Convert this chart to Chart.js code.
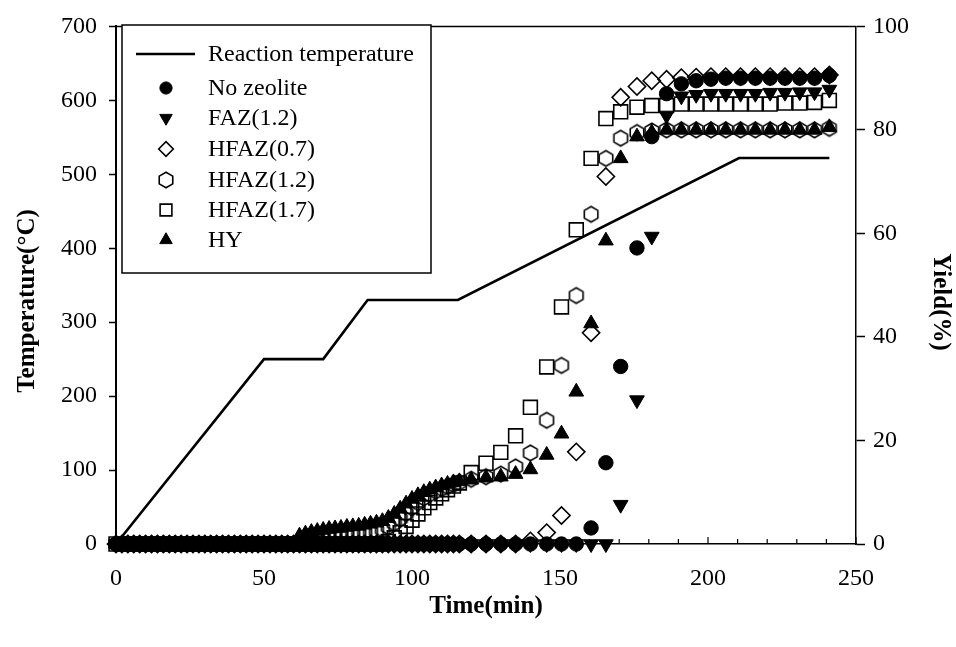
<!DOCTYPE html>
<html>
<head>
<meta charset="utf-8">
<script src="https://cdn.jsdelivr.net/npm/chart.js@4.4.1/dist/chart.umd.min.js"></script>
<style>
  html, body { margin: 0; padding: 0; background: #fff; }
  canvas { display: block; }
</style>
</head>
<body>
<canvas id="chart" width="956" height="647"></canvas>
<script>
// Reaction temperature programme (left axis, °C)
const tempMinutes = [0, 50, 70, 85, 115.5, 210.5, 241];
const tempValues  = [0, 250, 250, 330, 330, 522, 522];

// Sampling times (min) shared by all yield series
const minutes = [
  0, 2, 4, 6, 8, 10, 12, 14, 16, 18,
  20, 22, 24, 26, 28, 30, 32, 34, 36, 38,
  40, 42, 44, 46, 48, 50, 52, 54, 56, 58,
  60, 62, 64, 66, 68, 70, 72, 74, 76, 78,
  80, 82, 84, 86, 88, 90, 92, 94, 96, 98,
  100, 102, 104, 106, 108, 110, 112, 114, 116,
  120, 125, 130, 135, 140, 145.5, 150.5, 155.5, 160.5, 165.5,
  170.5, 176, 181, 186, 191, 196, 201, 206, 211, 216,
  221, 226, 231, 236, 241
];

// Yield (%) for each catalyst (right axis)
const noZeolite = [
  0, 0, 0, 0, 0, 0, 0, 0, 0, 0,
  0, 0, 0, 0, 0, 0, 0, 0, 0, 0,
  0, 0, 0, 0, 0, 0, 0, 0, 0, 0,
  0, 0, 0, 0, 0, 0, 0, 0, 0, 0,
  0, 0, 0, 0, 0, 0, 0, 0, 0, 0,
  0, 0, 0, 0, 0, 0, 0, 0, 0,
  0, 0, 0, 0, 0, 0, 0, 0, 3.1, 15.7,
  34.3, 57.2, 78.7, 87, 88.9, 89.5, 89.8, 90, 90, 90,
  90, 90, 90, 90, 90.5
];
const faz12 = [
  0, 0, 0, 0, 0, 0, 0, 0, 0, 0,
  0, 0, 0, 0, 0, 0, 0, 0, 0, 0,
  0, 0, 0, 0, 0, 0, 0, 0, 0, 0,
  0, 0, 0, 0, 0, 0, 0, 0, 0, 0,
  0, 0, 0, 0, 0, 0, 0, 0, 0, 0,
  0, 0, 0, 0, 0, 0, 0, 0, 0,
  0, 0, 0, 0, 0, 0, 0, 0, 0, 0,
  7.6, 27.8, 59.4, 82.8, 86.5, 86.8, 87, 87, 87, 87,
  87.2, 87.2, 87.3, 87.3, 87.8
];
const hfaz07 = [
  0, 0, 0, 0, 0, 0, 0, 0, 0, 0,
  0, 0, 0, 0, 0, 0, 0, 0, 0, 0,
  0, 0, 0, 0, 0, 0, 0, 0, 0, 0,
  0, 0, 0, 0, 0, 0, 0, 0, 0, 0,
  0, 0, 0, 0, 0, 0, 0, 0, 0, 0,
  0, 0, 0, 0, 0, 0, 0, 0, 0,
  0, 0, 0, 0, 0.6, 2.2, 5.5, 17.8, 40.8, 71,
  86.3, 88.4, 89.5, 89.8, 90.1, 90.2, 90.3, 90.3, 90.3, 90.3,
  90.3, 90.3, 90.3, 90.3, 90.6
];
const hfaz12 = [
  0, 0, 0, 0, 0, 0, 0, 0, 0, 0,
  0, 0, 0, 0, 0, 0, 0, 0, 0, 0,
  0, 0, 0, 0, 0, 0, 0, 0, 0, 0,
  0, 0, 0, 0, 1.0, 1.2, 1.3, 1.5, 1.6, 1.7,
  1.8, 2.0, 2.1, 2.3, 2.5, 2.8, 3.3, 4.0, 4.9, 5.9,
  7.0, 8.0, 8.9, 9.6, 10.2, 10.7, 11.1, 11.5, 11.9,
  12.5, 13.0, 13.5, 14.9, 17.6, 23.9, 34.5, 48.0, 63.7, 74.5,
  78.4, 79.5, 79.8, 80, 80, 80, 80, 80, 80, 80,
  80, 80, 80, 80, 80.3
];
const hfaz17 = [
  0, 0, 0, 0, 0, 0, 0, 0, 0, 0,
  0, 0, 0, 0, 0, 0, 0, 0, 0, 0,
  0, 0, 0, 0, 0, 0, 0, 0, 0, 0,
  0, 0, 0, 0, 0, 0, 0, 0, 0, 0,
  0, 0, 0, 0, 0, 0, 0.5, 1.2, 2.2, 3.4,
  4.6, 5.8, 7.0, 8.0, 8.9, 9.7, 10.5, 11.2, 11.8,
  13.8, 15.6, 17.7, 20.9, 26.4, 34.2, 45.8, 60.7, 74.5, 82.2,
  83.5, 84.4, 84.7, 84.7, 85, 85, 85, 85, 85, 85,
  85, 85.2, 85.2, 85.3, 85.7
];
const hy = [
  0, 0, 0, 0, 0, 0, 0, 0, 0, 0,
  0, 0, 0, 0, 0, 0, 0, 0, 0, 0,
  0, 0, 0, 0, 0, 0, 0, 0, 0, 0,
  0, 1.6, 2.0, 2.3, 2.5, 2.7, 2.9, 3.0, 3.1, 3.3,
  3.4, 3.5, 3.7, 3.9, 4.1, 4.4, 5.0, 5.8, 6.8, 7.8,
  8.7, 9.4, 10.0, 10.5, 10.9, 11.3, 11.6, 11.9, 12.1,
  12.4, 12.8, 13.0, 13.5, 14.4, 17.2, 21.3, 29.4, 42.6, 58.6,
  74.5, 78.7, 79.5, 80, 80, 80, 80, 80, 80, 80,
  80, 80, 80, 80, 80.5
];

const SERIF = "'Liberation Serif', 'Times New Roman', Times, serif";

// Open hexagon marker (pointy top) used as a custom point style
function hexagonMarker(r, lw) {
  const s = Math.ceil(2 * r + lw + 2);
  const c = document.createElement('canvas');
  c.width = s; c.height = s;
  const g = c.getContext('2d');
  g.strokeStyle = '#000';
  g.lineWidth = lw;
  g.beginPath();
  for (let k = 0; k < 6; k++) {
    const a = -Math.PI / 2 + k * Math.PI / 3;
    const px = s / 2 + r * Math.cos(a), py = s / 2 + r * Math.sin(a);
    if (k === 0) g.moveTo(px, py); else g.lineTo(px, py);
  }
  g.closePath();
  g.stroke();
  return c;
}
const hexStyle = hexagonMarker(7.8, 1.6);

const markers = {
  noZeolite: { pointStyle: 'circle',   radius: 7.2, rotation: 0,   fill: '#000',          border: 1 },
  faz12:     { pointStyle: 'triangle', radius: 8.5, rotation: 180, fill: '#000',          border: 1 },
  hfaz07:    { pointStyle: 'rectRot',  radius: 8.6, rotation: 0,   fill: 'rgba(0,0,0,0)', border: 1.6 },
  hfaz12:    { pointStyle: hexStyle,   radius: 7.8, rotation: 0,   fill: 'rgba(0,0,0,0)', border: 1.6 },
  hfaz17:    { pointStyle: 'rect',     radius: 9.8, rotation: 0,   fill: 'rgba(0,0,0,0)', border: 1.6 },
  hy:        { pointStyle: 'triangle', radius: 8.5, rotation: 0,   fill: '#000',          border: 1 }
};

function yieldDataset(label, values, m) {
  return {
    label,
    data: minutes.map((t, i) => ({ x: t, y: values[i] })),
    yAxisID: 'y1',
    showLine: false,
    clip: false,
    pointStyle: m.pointStyle,
    pointRadius: m.radius,
    pointRotation: m.rotation,
    pointBackgroundColor: m.fill,
    pointBorderColor: '#000',
    pointBorderWidth: m.border,
    pointHoverRadius: m.radius
  };
}

const legendRows = [
  { text: 'Reaction temperature', line: true },
  { text: 'No zeolite', m: markers.noZeolite },
  { text: 'FAZ(1.2)',   m: markers.faz12 },
  { text: 'HFAZ(0.7)',  m: markers.hfaz07 },
  { text: 'HFAZ(1.2)',  m: markers.hfaz12 },
  { text: 'HFAZ(1.7)',  m: markers.hfaz17 },
  { text: 'HY',         m: markers.hy }
];

// Frame, inward time ticks, vertical axis titles and boxed legend
const decorations = {
  id: 'decorations',
  afterDraw(chart) {
    const { ctx, chartArea: a, scales } = chart;
    ctx.save();
    ctx.strokeStyle = '#000';
    ctx.fillStyle = '#000';

    ctx.lineWidth = 1.5;
    ctx.beginPath();
    ctx.moveTo(a.left, a.top);
    ctx.lineTo(a.right, a.top);
    ctx.stroke();

    const xs = scales.x;
    ctx.lineWidth = 1.2;
    for (let v = xs.min; v <= xs.max; v += 10) {
      const px = xs.getPixelForValue(v);
      const len = v % 50 === 0 ? 7 : 5;
      ctx.beginPath();
      ctx.moveTo(px, a.bottom);
      ctx.lineTo(px, a.bottom - len);
      ctx.stroke();
    }

    ctx.font = 'bold 25px ' + SERIF;
    ctx.textAlign = 'center';
    ctx.textBaseline = 'middle';
    ctx.save();
    ctx.translate(28, 301);
    ctx.rotate(-Math.PI / 2);
    ctx.fillText('Temperature(°C)', 0, 0);
    ctx.restore();
    ctx.save();
    ctx.translate(940, 302);
    ctx.rotate(Math.PI / 2);
    ctx.fillText('Yield(%)', 0, 0);
    ctx.restore();

    const bx = 122, by = 25, bw = 309, bh = 248;
    ctx.fillStyle = '#fff';
    ctx.fillRect(bx, by, bw, bh);
    ctx.lineWidth = 1.5;
    ctx.strokeRect(bx, by, bw, bh);
    const rowsY = [54, 88, 118, 149, 180, 210, 240];
    ctx.font = '24px ' + SERIF;
    ctx.textAlign = 'left';
    ctx.textBaseline = 'middle';
    legendRows.forEach((row, i) => {
      const y = rowsY[i];
      ctx.fillStyle = '#000';
      ctx.strokeStyle = '#000';
      if (row.line) {
        ctx.lineWidth = 2.5;
        ctx.beginPath();
        ctx.moveTo(136, y);
        ctx.lineTo(195, y);
        ctx.stroke();
      } else {
        ctx.fillStyle = row.m.fill;
        ctx.lineWidth = row.m.border;
        Chart.helpers.drawPoint(ctx, {
          pointStyle: row.m.pointStyle,
          radius: row.m.radius * 0.85,
          rotation: row.m.rotation,
          borderWidth: row.m.border
        }, 166, y);
      }
      ctx.fillStyle = '#000';
      ctx.fillText(row.text, 208, y + 1);
    });
    ctx.restore();
  }
};

new Chart(document.getElementById('chart'), {
  type: 'scatter',
  data: {
    datasets: [
      {
        label: 'Reaction temperature',
        data: tempMinutes.map((t, i) => ({ x: t, y: tempValues[i] })),
        yAxisID: 'y',
        showLine: true,
        borderColor: '#000',
        borderWidth: 2.6,
        pointRadius: 0,
        tension: 0,
        fill: false,
        clip: false
      },
      yieldDataset('No zeolite', noZeolite, markers.noZeolite),
      yieldDataset('FAZ(1.2)', faz12, markers.faz12),
      yieldDataset('HFAZ(0.7)', hfaz07, markers.hfaz07),
      yieldDataset('HFAZ(1.2)', hfaz12, markers.hfaz12),
      yieldDataset('HFAZ(1.7)', hfaz17, markers.hfaz17),
      yieldDataset('HY', hy, markers.hy)
    ]
  },
  options: {
    responsive: false,
    devicePixelRatio: 1,
    animation: false,
    layout: { padding: { top: 20, left: 0, right: 0, bottom: 0 } },
    plugins: {
      legend: { display: false },
      tooltip: { enabled: false }
    },
    scales: {
      x: {
        type: 'linear',
        position: 'bottom',
        min: 0,
        max: 250,
        ticks: { stepSize: 50, color: '#000', font: { family: SERIF, size: 24 }, padding: 20, maxRotation: 0 },
        grid: { display: false, drawTicks: false },
        border: { display: true, color: '#000', width: 1.5 },
        title: { display: true, text: 'Time(min)', color: '#000',
                 font: { family: SERIF, size: 25, weight: 'bold' }, padding: { top: 0, bottom: 25 } },
        afterFit(scale) { scale.height = 103; }
      },
      y: {
        position: 'left',
        min: 0,
        max: 700,
        ticks: { stepSize: 100, color: '#000', font: { family: SERIF, size: 24 }, padding: 12 },
        grid: { drawOnChartArea: false, drawTicks: true, tickLength: 7, tickColor: '#000', tickWidth: 1.5 },
        border: { display: true, color: '#000', width: 2 },
        afterFit(scale) { scale.width = 116; }
      },
      y1: {
        position: 'right',
        min: 0,
        max: 100,
        ticks: { stepSize: 20, color: '#000', font: { family: SERIF, size: 24 }, padding: 8 },
        grid: { drawOnChartArea: false, drawTicks: true, tickLength: 9, tickColor: '#000', tickWidth: 1.5 },
        border: { display: true, color: '#000', width: 1.5 },
        afterFit(scale) { scale.width = 100; }
      }
    }
  },
  plugins: [decorations]
});
</script>
</body>
</html>
